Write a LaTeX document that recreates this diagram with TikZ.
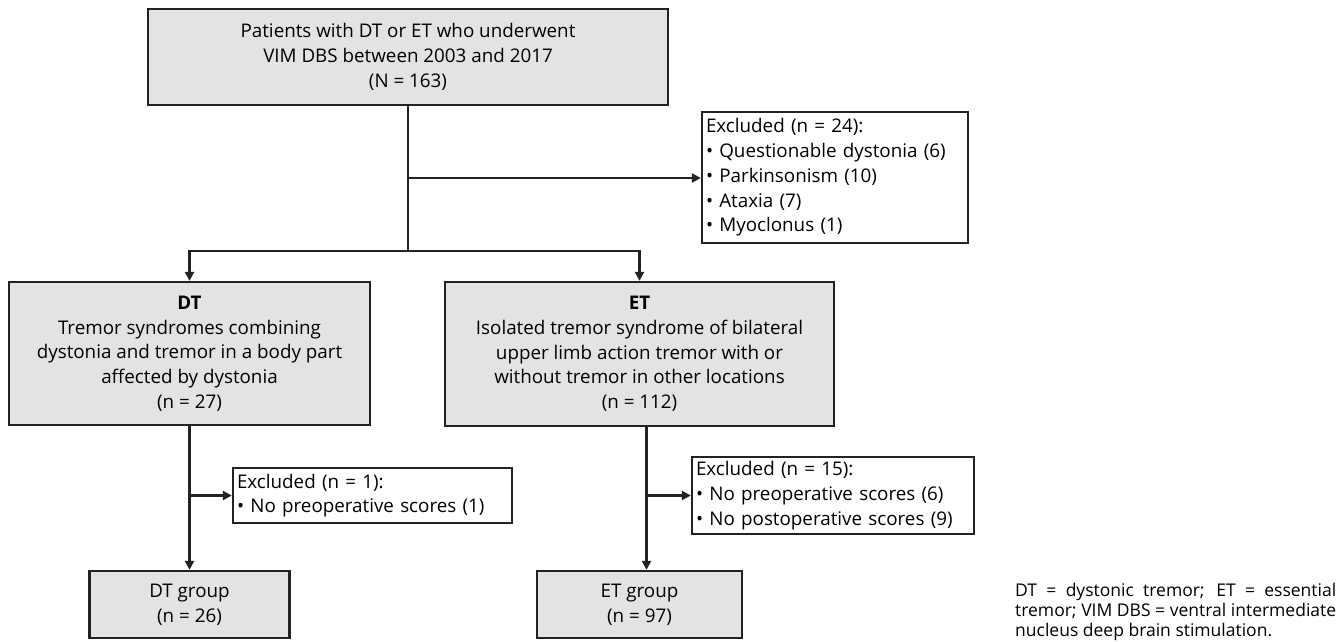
\documentclass[tikz,border=0pt]{standalone}
\usepackage{fontspec}
\setmainfont{Open Sans}
\usetikzlibrary{arrows.meta,positioning}
\definecolor{boxgray}{HTML}{E3E3E3}
\definecolor{linegray}{HTML}{222222}

\begin{document}
\begin{tikzpicture}[x=1pt,y=-1pt,
        font=\fontsize{18.8}{24.7}\selectfont,
        grpbox/.style={draw=linegray, fill=boxgray, line width=2.3pt, align=center, inner sep=4pt},
        excbox/.style={draw=linegray, fill=white, line width=2.3pt, align=left, inner sep=4pt},
        conn/.style={draw=linegray, line width=2.3pt},
        arr/.style={conn, -{Triangle[length=9pt,width=9pt]}}]
        \useasboundingbox (0,0) rectangle (1336,641);

        % Popolazione iniziale
        \node[grpbox, minimum width=520pt, minimum height=96pt] (pts) at (408,57)
            {Patients with DT or ET who underwent\\VIM DBS between 2003 and 2017\\(N = 163)};
        \node[excbox, text width=258pt, minimum height=131pt] (exc0) at (835,177.5)
            {Excluded (n = 24):\\• Questionable dystonia (6)\\• Parkinsonism (10)\\• Ataxia (7)\\• Myoclonus (1)};

        % Due gruppi diagnostici
        \node[grpbox, minimum width=361pt, minimum height=143pt] (dt) at (189.5,353.5)
            {\textbf{DT}\\Tremor syndromes combining\\dystonia and tremor in a body part\\affected by dystonia\\(n = 27)};
        \node[grpbox, minimum width=389pt, minimum height=144pt] (et) at (639.5,354)
            {\textbf{ET}\\Isolated tremor syndrome of bilateral\\upper limb action tremor with or\\without tremor in other locations\\(n = 112)};

        % Esclusi per gruppo
        \node[excbox, text width=271pt, minimum height=55pt] (exc1) at (372.5,495.5)
            {Excluded (n = 1):\\• No preoperative scores (1)};
        \node[excbox, text width=274pt, minimum height=77pt] (exc2) at (833,495.5)
            {Excluded (n = 15):\\• No preoperative scores (6)\\• No postoperative scores (9)};

        % Gruppi finali
        \node[grpbox, minimum width=200pt, minimum height=67pt] (dtg) at (189.5,604.5)
            {DT group\\(n = 26)};
        \node[grpbox, minimum width=205pt, minimum height=67pt] (etg) at (639.5,604.5)
            {ET group\\(n = 97)};

        \node[font=\fontsize{17.5}{20}\selectfont, text width=321pt, align=justify, inner sep=0pt,
            anchor=north west] (note) at (1015,583)
            {DT = dystonic tremor; ET = essential\linebreak tremor; VIM DBS = ventral intermediate\linebreak nucleus deep brain stimulation.};

        % Collegamenti
        \coordinate (tap0) at (408,178);
        \coordinate (fork) at (408,251);
        \draw[conn] (pts.south) -- (fork);
        \draw[arr] (tap0) -- (tap0 -| exc0.west);
        \draw[arr] (fork) -| (dt.north);
        \draw[arr] (fork) -| (et.north);

        \draw[arr] (dt.south) -- (dtg.north);
        \draw[arr] (dt.south |- exc1.west) -- (exc1.west);

        \coordinate (etdown) at ([xshift=7pt]et.south);
        \draw[arr] (etdown) -- (etdown |- etg.north);
        \draw[arr] (etdown |- exc2.west) -- (exc2.west);
    \end{tikzpicture}
\end{document}
